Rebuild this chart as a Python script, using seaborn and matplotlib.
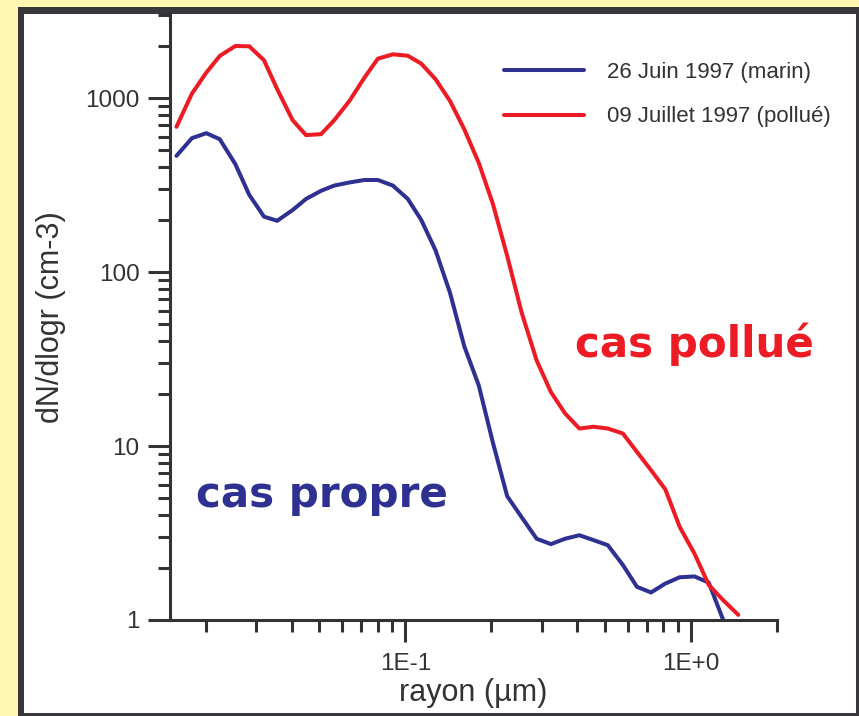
import matplotlib
matplotlib.use("Agg")
import matplotlib.pyplot as plt
import numpy as np
import pandas as pd
import seaborn as sns
from matplotlib.patches import Rectangle
from matplotlib.ticker import LogLocator, NullFormatter

# Rayons (µm)
rayon = [0.0158, 0.0179, 0.0201, 0.0224, 0.0254, 0.0284, 0.0320, 0.0356,
         0.0403, 0.0449, 0.0507, 0.0564, 0.0637, 0.0719, 0.0801, 0.0904,
         0.102, 0.1137, 0.1276, 0.1433, 0.1609, 0.1807, 0.2024, 0.2272,
         0.2553, 0.2882, 0.3234, 0.3622, 0.4067, 0.4553, 0.5116, 0.5776,
         0.647, 0.7246, 0.8131, 0.9127, 1.028, 1.154, 1.296, 1.464]

# 26 Juin 1997 (marin)
marin = [465, 588, 628, 580, 417, 278, 208, 197, 227, 263, 293, 314, 327,
         338, 338, 314, 263, 199, 133, 76, 37.3, 22.3, 10.5, 5.15, 3.9,
         2.93, 2.73, 2.93, 3.07, 2.88, 2.69, 2.07, 1.55, 1.44, 1.62, 1.76,
         1.78, 1.64, 1.0]

# 09 Juillet 1997 (pollué)
pollue = [683, 1060, 1400, 1745, 1990, 1983, 1648, 1123, 746, 612, 620, 746,
          962, 1309, 1683, 1783, 1750, 1575, 1282, 962, 660, 424, 247, 124,
          58.5, 31, 20.4, 15.4, 12.6, 12.9, 12.6, 11.8, 9.24, 7.26, 5.63,
          3.43, 2.41, 1.59, 1.30, 1.07]

noms = ["26 Juin 1997 (marin)", "09 Juillet 1997 (pollué)"]
couleurs = ["#2e3192", "#ed1c24"]

xticks = [0.1, 1.0]
xticklabels = ["1E-1", "1E+0"]
yticks = [1, 10, 100, 1000]
yticklabels = ["1", "10", "100", "1000"]

df = pd.concat([
    pd.DataFrame({"rayon": rayon[:len(marin)], "dN": marin, "cas": noms[0]}),
    pd.DataFrame({"rayon": rayon[:len(pollue)], "dN": pollue, "cas": noms[1]}),
])

sns.set_theme(style="ticks")
plt.rcParams["font.family"] = ["Liberation Sans", "DejaVu Sans"]

gris = "#333333"
fig = plt.figure(figsize=(8.59, 7.16), dpi=100)
fig.patch.set_facecolor("#fff7b2")

# cadre sombre + fond blanc
fig.add_artist(Rectangle((18 / 859, 0), 1, 1 - 7 / 716, transform=fig.transFigure,
                         facecolor="#38383c", edgecolor="none", zorder=0))
fig.add_artist(Rectangle((24 / 859, 3 / 716), (856 - 24) / 859, (713 - 14) / 716,
                         transform=fig.transFigure, facecolor="white",
                         edgecolor="none", zorder=0))

ax = fig.add_axes([170 / 859, (716 - 620) / 716, (777 - 170) / 859, (620 - 15) / 716])
ax.patch.set_alpha(0)

sns.lineplot(data=df, x="rayon", y="dN", hue="cas", palette=couleurs,
             estimator=None, sort=False, linewidth=2.9, ax=ax)

ax.set_xscale("log")
ax.set_yscale("log")
ax.set_xlim(0.015, 2)
ax.set_ylim(1, 3000)

ax.set_xticks(xticks, xticklabels)
ax.set_yticks(yticks, yticklabels)
ax.xaxis.set_minor_locator(LogLocator(base=10, subs=np.arange(2, 10)))
ax.yaxis.set_minor_locator(LogLocator(base=10, subs=np.arange(2, 10)))
ax.xaxis.set_minor_formatter(NullFormatter())
ax.yaxis.set_minor_formatter(NullFormatter())

for s in ["top", "right"]:
    ax.spines[s].set_visible(False)
for s in ["left", "bottom"]:
    ax.spines[s].set_linewidth(2.2)
    ax.spines[s].set_color(gris)

ax.tick_params(which="major", direction="out", length=15.8, width=2.2,
               color=gris, labelcolor=gris, labelsize=17.5)
ax.tick_params(which="minor", direction="out", length=8.6, width=2.2, color=gris)
ax.tick_params(axis="x", which="major", pad=8)
ax.tick_params(axis="y", which="major", pad=6)

ax.set_xlabel("rayon (µm)", fontsize=22, color=gris, labelpad=2)
ax.set_ylabel("dN/dlogr (cm-3)", fontsize=22, color=gris, labelpad=14)

# légende
handles, labels = ax.get_legend_handles_labels()
leg = ax.legend(handles, labels, loc="upper left",
                bbox_to_anchor=((504 - 170) / 607, 1 - (62 - 15) / 605),
                frameon=False, fontsize=16, handlelength=3.6,
                handletextpad=1.05, labelspacing=1.05, borderpad=0,
                borderaxespad=0)
for t in leg.get_texts():
    t.set_color(gris)

ax.text(0.043, 0.187, "cas propre", transform=ax.transAxes, color=couleurs[0],
        fontsize=30.3, fontweight="bold", family="DejaVu Sans", va="baseline")
ax.text(0.667, 0.435, "cas pollué", transform=ax.transAxes, color=couleurs[1],
        fontsize=30.3, fontweight="bold", family="DejaVu Sans", va="baseline")

fig.savefig("out.png", dpi=100, facecolor=fig.get_facecolor())
